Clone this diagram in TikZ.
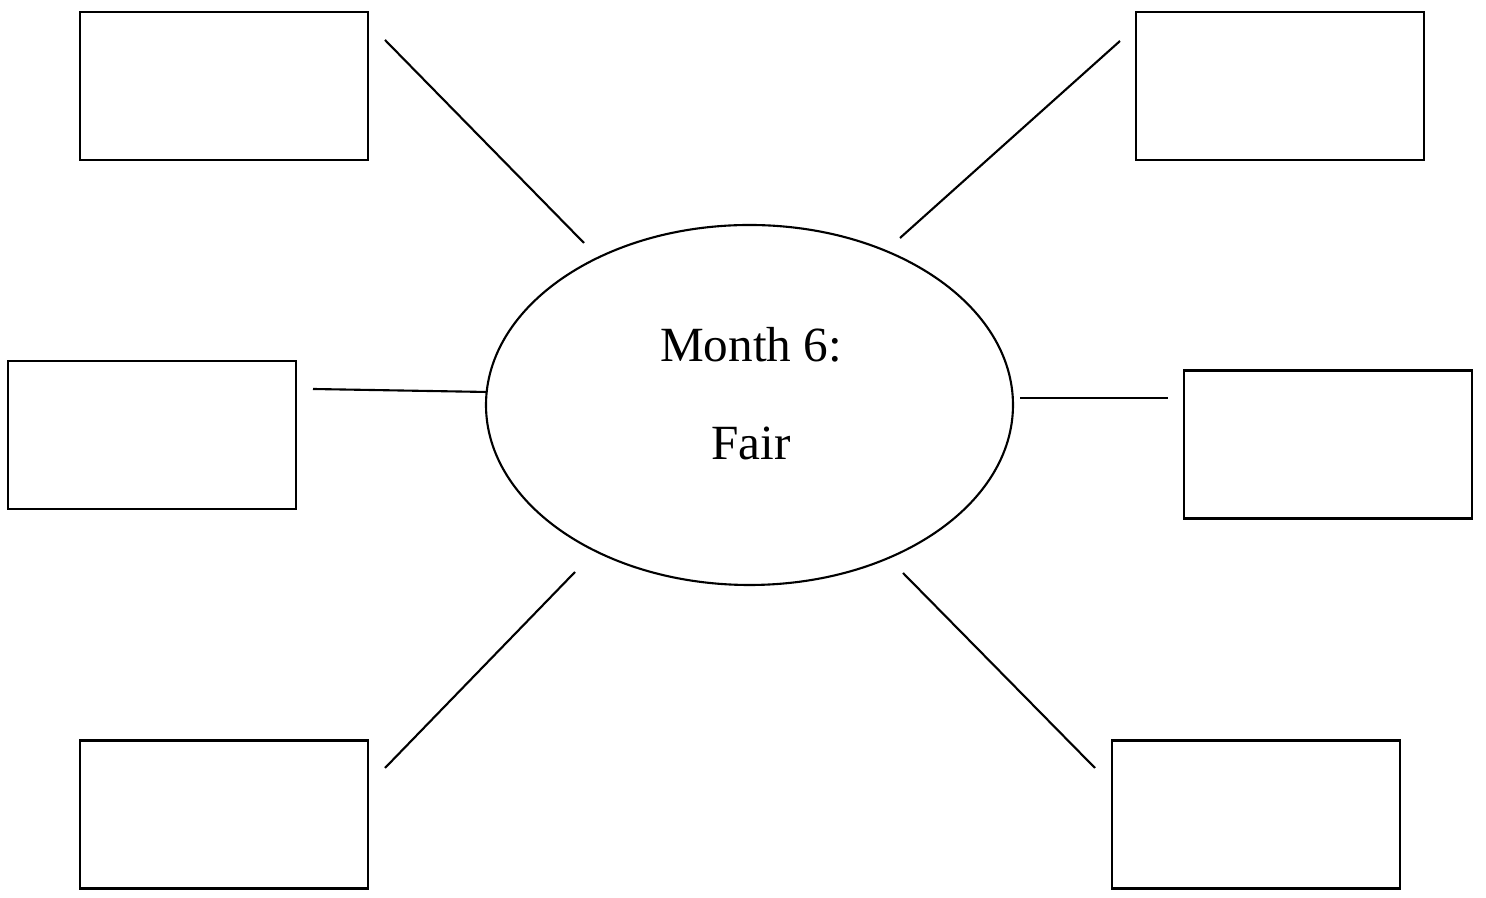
\documentclass[tikz,border=0pt]{standalone}
\usepackage{fontspec}
\setmainfont{Liberation Serif}
\usetikzlibrary{shapes.geometric}

\begin{document}
\begin{tikzpicture}[
			box/.style={
				draw,
				rectangle,
				minimum width=2.88cm,
				minimum height=1.48cm,
				line width=0.6pt
			},
			center/.style={
				draw,
				ellipse,
				minimum width=5.27cm,
				minimum height=3.6cm,
				inner sep=0pt,
				line width=0.6pt
			},
			spoke/.style={
				draw,
				line width=0.6pt
			},
			word/.style={
				anchor=base,
				font=\fontsize{14}{17}\selectfont
			}
			]
			\useasboundingbox (0,0) rectangle (14.86,8.98);
			
			% Centre
			\node[center] (fair) at (7.495,4.93) {};
			\node[word] (month) at (7.51,5.36) {Month 6:};
			\node[word] (name) at (7.51,4.38) {Fair};
			
			% Boxes
			\node[box] (tl) at (2.24,8.12) {};
			\node[box] (tr) at (12.80,8.12) {};
			\node[box] (ml) at (1.52,4.63) {};
			\node[box] (mr) at (13.28,4.535) {};
			\node[box] (bl) at (2.24,0.835) {};
			\node[box] (br) at (12.56,0.835) {};
			
			% Spoke ends
			\coordinate (tl1) at (3.85,8.58);
			\coordinate (tl2) at (5.84,6.55);
			\coordinate (tr1) at (11.20,8.57);
			\coordinate (tr2) at (9.00,6.60);
			\coordinate (ml1) at (3.13,5.09);
			\coordinate (ml2) at (4.87,5.06);
			\coordinate (mr1) at (10.20,5.00);
			\coordinate (mr2) at (11.68,5.00);
			\coordinate (bl1) at (3.85,1.30);
			\coordinate (bl2) at (5.75,3.26);
			\coordinate (br1) at (10.95,1.30);
			\coordinate (br2) at (9.03,3.25);
			
			% Spokes
			\foreach \s in {tl,tr,ml,mr,bl,br}
			\path[spoke] (\s1) -- (\s2);
		\end{tikzpicture}
\end{document}
